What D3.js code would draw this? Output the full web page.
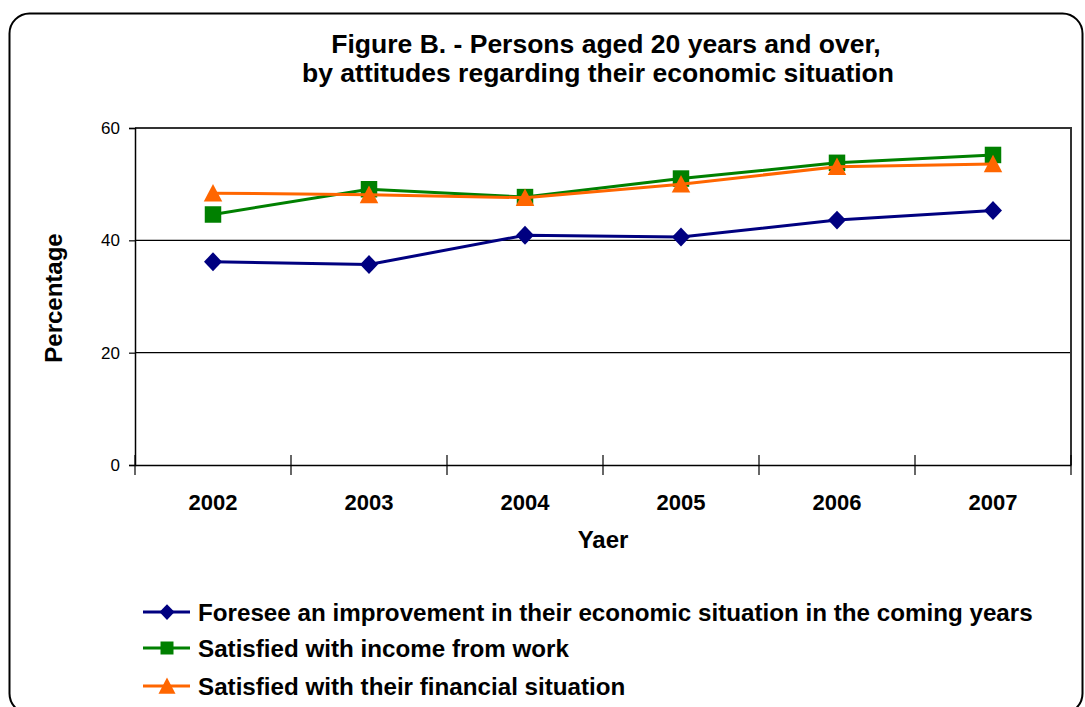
<!DOCTYPE html>
<html>
<head>
<meta charset="utf-8">
<script src="https://cdn.jsdelivr.net/npm/d3@7"></script>
<style>
  html, body { margin: 0; padding: 0; background: #fff; }
  svg { display: block; font-family: Arial, "Liberation Sans", sans-serif; }
</style>
</head>
<body>
<svg id="chart" width="1085" height="707"></svg>
<script>
const years = ["2002", "2003", "2004", "2005", "2006", "2007"];
const foresee = [36.2, 35.7, 40.9, 40.6, 43.6, 45.3];
const satisfiedIncome = [44.6, 49.1, 47.7, 51.0, 53.8, 55.2];
const satisfiedFinancial = [48.4, 48.1, 47.6, 50.0, 53.1, 53.6];
const yTicks = [0, 20, 40, 60];
const seriesNames = [
  "Foresee an improvement in their economic situation in the coming years",
  "Satisfied with income from work",
  "Satisfied with their financial situation"
];
const titleLines = ["Figure B. - Persons aged 20 years and over,", "by attitudes regarding their economic situation"];

const series = [
  { name: seriesNames[0], values: foresee, color: "#000080", symbol: "diamond" },
  { name: seriesNames[1], values: satisfiedIncome, color: "#008000", symbol: "square" },
  { name: seriesNames[2], values: satisfiedFinancial, color: "#FF6600", symbol: "triangle" }
];

const svg = d3.select("#chart");

// outer frame
svg.append("rect").attr("x", 9.5).attr("y", 13.5).attr("width", 1073).attr("height", 700)
  .attr("rx", 20).attr("ry", 20).attr("fill", "#fff").attr("stroke", "#000").attr("stroke-width", 2);

const margin = { left: 135, top: 128, right: 1071, bottom: 465 };
const x = d3.scaleBand().domain(years).range([margin.left, margin.right]);
const y = d3.scaleLinear().domain([0, 60]).range([margin.bottom, margin.top]);

// title
const titleCenters = [606, 598];
svg.append("g").selectAll("text").data(titleLines).join("text")
  .attr("x", (d, i) => titleCenters[i]).attr("y", (d, i) => 53 + i * 29)
  .attr("text-anchor", "middle").attr("font-weight", "bold").attr("font-size", 26.5)
  .text(d => d);

// gridlines
svg.append("g").selectAll("line").data(yTicks.filter(t => t > 0)).join("line")
  .attr("x1", margin.left).attr("x2", margin.right)
  .attr("y1", d => y(d)).attr("y2", d => y(d))
  .attr("stroke", "#000").attr("stroke-width", 1.2);

// plot border (top & right)
svg.append("path")
  .attr("d", `M${margin.left},${margin.top}H${margin.right}V${margin.bottom}`)
  .attr("fill", "none").attr("stroke", "#333").attr("stroke-width", 2);

// y axis
const yAxis = svg.append("g").attr("transform", `translate(${margin.left},0)`)
  .call(d3.axisLeft(y).tickValues(yTicks).tickSize(6).tickPadding(9).tickFormat(d3.format("d")));
yAxis.select(".domain").attr("stroke", "#000").attr("stroke-width", 1.5);
yAxis.selectAll(".tick line").attr("stroke", "#000").attr("stroke-width", 1.2);
yAxis.selectAll(".tick text").attr("font-size", 17).attr("font-family", "Arial, 'Liberation Sans', sans-serif").attr("fill", "#000");

// x axis
const xAxis = svg.append("g").attr("transform", `translate(0,${margin.bottom})`)
  .call(d3.axisBottom(x).tickSize(0).tickPadding(29));
xAxis.select(".domain").attr("stroke", "#000").attr("stroke-width", 1.5);
xAxis.selectAll(".tick text").attr("font-size", 22).attr("font-weight", "bold")
  .attr("font-family", "Arial, 'Liberation Sans', sans-serif").attr("fill", "#000");
// category boundary ticks
const boundaries = years.map(d => x(d)).concat([x.range()[1]]);
svg.append("g").selectAll("line").data(boundaries).join("line")
  .attr("x1", d => d).attr("x2", d => d)
  .attr("y1", margin.bottom - 10).attr("y2", margin.bottom + 10)
  .attr("stroke", "#000").attr("stroke-width", 1.2);

// axis titles
svg.append("text").attr("x", 603).attr("y", 548).attr("text-anchor", "middle")
  .attr("font-weight", "bold").attr("font-size", 24).text("Yaer");
svg.append("text").attr("transform", "translate(62,298) rotate(-90)").attr("text-anchor", "middle")
  .attr("font-weight", "bold").attr("font-size", 24).text("Percentage");

// custom marker shapes (size = full width in px)
const shapes = {
  diamond: { draw(ctx, w) { const r = w / 2; ctx.moveTo(0, -r * 1.05); ctx.lineTo(r, 0); ctx.lineTo(0, r * 1.05); ctx.lineTo(-r, 0); ctx.closePath(); } },
  square: { draw(ctx, w) { const r = w / 2; ctx.rect(-r, -r, w, w); } },
  triangle: { draw(ctx, w) { const r = w / 2; ctx.moveTo(0, -r); ctx.lineTo(r, r * 0.9); ctx.lineTo(-r, r * 0.9); ctx.closePath(); } }
};
const markerSize = { diamond: 18, square: 16.5, triangle: 18.5 };
const legendMarkerSize = { diamond: 15, square: 13, triangle: 17 };

const line = d3.line().x((d, i) => x(years[i]) + x.bandwidth() / 2).y(d => y(d));

series.forEach(s => {
  svg.append("path").datum(s.values).attr("d", line)
    .attr("fill", "none").attr("stroke", s.color).attr("stroke-width", 3);
  svg.append("g").selectAll("path").data(s.values).join("path")
    .attr("transform", (d, i) => `translate(${x(years[i]) + x.bandwidth() / 2},${y(d)})`)
    .attr("d", d3.symbol().type(shapes[s.symbol]).size(markerSize[s.symbol]))
    .attr("fill", s.color);
});

// legend
const legendY = [612, 648, 686];
series.forEach((s, i) => {
  const g = svg.append("g").attr("transform", `translate(0,${legendY[i]})`);
  g.append("line").attr("x1", 143).attr("x2", 190).attr("y1", 0).attr("y2", 0)
    .attr("stroke", s.color).attr("stroke-width", 3);
  g.append("path").attr("transform", "translate(167,0)")
    .attr("d", d3.symbol().type(shapes[s.symbol]).size(legendMarkerSize[s.symbol]))
    .attr("fill", s.color);
  g.append("text").attr("x", 198).attr("y", 9).attr("font-weight", "bold").attr("font-size", 24.2)
    .text(s.name);
});
</script>
</body>
</html>
